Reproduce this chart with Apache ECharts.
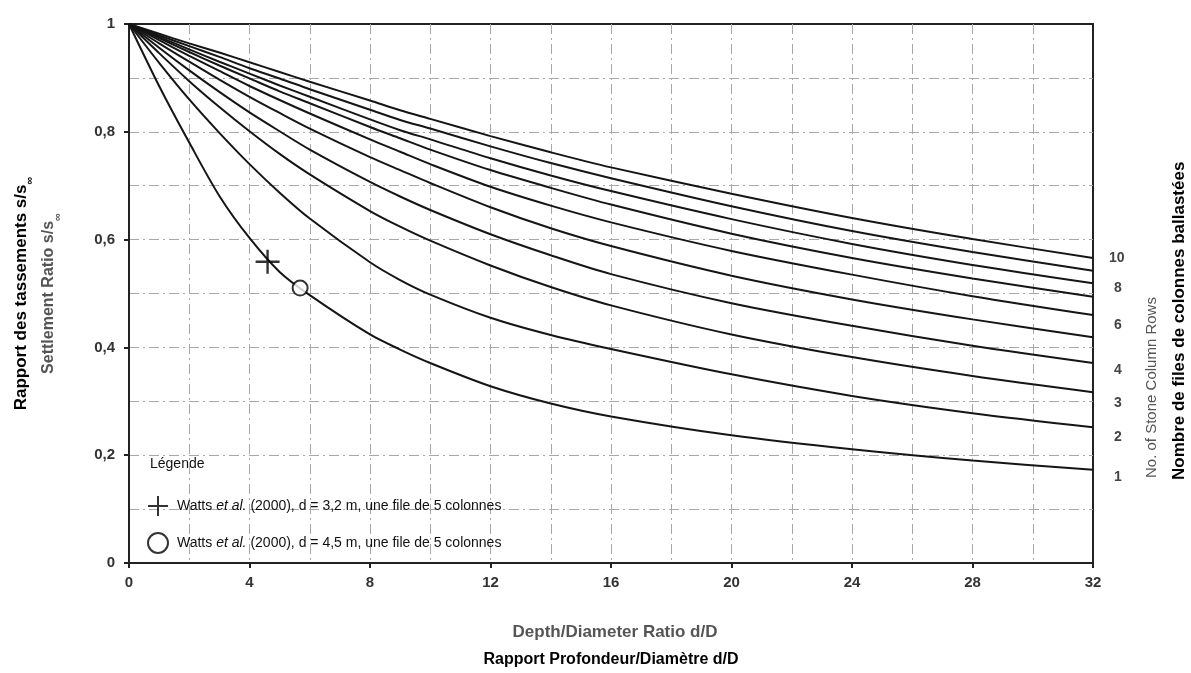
<!DOCTYPE html>
<html>
<head>
<meta charset="utf-8">
<script src="https://cdn.jsdelivr.net/npm/echarts@6/dist/echarts.min.js"></script>
<style>html,body{margin:0;padding:0;background:#fff;}#c{width:1191px;height:673px;}</style>
</head>
<body>
<div id="c"></div>
<script>
// Depth/Diameter ratio d/D sample points
const dD = [0, 1, 2, 3, 4, 5, 6, 8, 9, 10, 12, 14, 16, 20, 24, 28, 32];
// Settlement ratio s/s∞ for each number of stone column rows
const rows1  = [1, 0.885, 0.780, 0.681, 0.603, 0.540, 0.497, 0.424, 0.396, 0.371, 0.328, 0.296, 0.272, 0.237, 0.211, 0.190, 0.173];
const rows2  = [1, 0.928, 0.860, 0.798, 0.740, 0.687, 0.639, 0.558, 0.525, 0.498, 0.455, 0.423, 0.397, 0.350, 0.310, 0.278, 0.252];
const rows3  = [1, 0.946, 0.894, 0.846, 0.801, 0.759, 0.721, 0.653, 0.624, 0.598, 0.552, 0.512, 0.478, 0.424, 0.382, 0.347, 0.317];
const rows4  = [1, 0.956, 0.914, 0.874, 0.836, 0.801, 0.767, 0.707, 0.680, 0.655, 0.610, 0.571, 0.536, 0.482, 0.440, 0.403, 0.371];
const rows5  = [1, 0.964, 0.930, 0.897, 0.865, 0.835, 0.806, 0.753, 0.729, 0.705, 0.660, 0.621, 0.588, 0.533, 0.489, 0.452, 0.419];
const rows6  = [1, 0.970, 0.941, 0.913, 0.885, 0.859, 0.834, 0.786, 0.763, 0.740, 0.698, 0.663, 0.632, 0.579, 0.535, 0.495, 0.460];
const rows7  = [1, 0.974, 0.948, 0.923, 0.899, 0.875, 0.853, 0.809, 0.788, 0.767, 0.729, 0.696, 0.665, 0.611, 0.566, 0.528, 0.494];
const rows8  = [1, 0.976, 0.953, 0.930, 0.908, 0.886, 0.865, 0.823, 0.803, 0.786, 0.751, 0.719, 0.690, 0.638, 0.592, 0.553, 0.519];
const rows9  = [1, 0.979, 0.959, 0.939, 0.918, 0.899, 0.879, 0.841, 0.822, 0.806, 0.773, 0.742, 0.714, 0.662, 0.616, 0.577, 0.542];
const rows10 = [1, 0.982, 0.964, 0.947, 0.929, 0.911, 0.893, 0.858, 0.840, 0.824, 0.792, 0.762, 0.734, 0.685, 0.640, 0.601, 0.566];
const rowCounts = [1, 2, 3, 4, 5, 6, 7, 8, 9, 10];
const rowData = [rows1, rows2, rows3, rows4, rows5, rows6, rows7, rows8, rows9, rows10];
// Labelled curves at the right edge
const labelledRows = [1, 2, 3, 4, 6, 8, 10];
// Watts et al. (2000) field points [d/D, s/s∞]
const watts32 = [[4.6, 0.559]];
const watts45 = [[5.68, 0.51]];
const name32 = 'Watts et al. (2000), d = 3,2 m, une file de 5 colonnes';
const name45 = 'Watts et al. (2000), d = 4,5 m, une file de 5 colonnes';
// Tick labels
const xTicks = [0, 4, 8, 12, 16, 20, 24, 28, 32];
const yTicks = ['0', '0,2', '0,4', '0,6', '0,8', '1'];

const labelOffsets = {1: [13, 7], 2: [13, 10], 3: [13, 11], 4: [13, 7], 6: [13, 10], 8: [13, 5], 10: [8, 0]};

const font = 'Liberation Sans, Arial, sans-serif';
const gridLine = {color: '#a8a8a8', width: 1, type: [10, 4, 2, 4]};

const curveSeries = rowCounts.map((n, i) => ({
  type: 'line',
  name: 'rows' + n,
  data: dD.map((x, j) => [x, rowData[i][j]]),
  smooth: 0.3,
  showSymbol: false,
  silent: true,
  lineStyle: {color: '#151515', width: 2},
  endLabel: {
    show: labelledRows.indexOf(n) >= 0,
    formatter: String(n),
    offset: labelOffsets[n] || [0, 0],
    color: '#444',
    fontFamily: font,
    fontWeight: 'bold',
    fontSize: 14
  },
  z: 3
}));

const chart = echarts.init(document.getElementById('c'), null, {renderer: 'canvas'});
chart.setOption({
  backgroundColor: '#fff',
  animation: false,
  grid: {left: 129, right: 98, top: 24, bottom: 110, containLabel: false, outerBoundsMode: 'none',
         show: true, borderColor: '#222', borderWidth: 2, backgroundColor: 'transparent'},
  xAxis: {
    type: 'value', min: 0, max: 32, interval: 4,
    axisLine: {show: true, lineStyle: {color: '#222', width: 2}},
    axisTick: {show: true, length: 5, lineStyle: {color: '#222', width: 2}},
    minorTick: {show: true, splitNumber: 2, length: 0},
    splitLine: {show: true, showMinLine: false, showMaxLine: false, lineStyle: gridLine},
    minorSplitLine: {show: true, lineStyle: gridLine},
    axisLabel: {
      color: '#333', fontFamily: font, fontWeight: 'bold', fontSize: 15, margin: 12,
      formatter: v => (xTicks.indexOf(v) >= 0 ? String(v) : '')
    },
    name: '{a|Depth/Diameter Ratio d/D}\n{b|Rapport Profondeur/Diamètre d/D}',
    nameLocation: 'middle',
    nameGap: 56,
    nameTextStyle: {
      rich: {
        a: {fontFamily: font, fontSize: 17, fontWeight: 'bold', color: '#555', lineHeight: 27, padding: [0, 0, 0, 8]},
        b: {fontFamily: font, fontSize: 16, fontWeight: 'bold', color: '#000', lineHeight: 27}
      }
    }
  },
  yAxis: {
    type: 'value', min: 0, max: 1, interval: 0.2,
    axisLine: {show: true, lineStyle: {color: '#222', width: 2}},
    axisTick: {show: true, length: 5, lineStyle: {color: '#222', width: 2}},
    minorTick: {show: true, splitNumber: 2, length: 0},
    splitLine: {show: true, showMinLine: false, showMaxLine: false, lineStyle: gridLine},
    minorSplitLine: {show: true, lineStyle: gridLine},
    axisLabel: {
      color: '#333', fontFamily: font, fontWeight: 'bold', fontSize: 15, margin: 14,
      formatter: v => yTicks[Math.round(v * 5)]
    },
    name: '{a|Rapport des tassements s/s}{as|∞}\n{b|Settlement Ratio s/s}{bs|∞}',
    nameLocation: 'middle',
    nameRotate: 90,
    nameGap: 66,
    nameTextStyle: {
      rich: {
        a: {fontFamily: font, fontSize: 17, fontWeight: 'bold', color: '#000', lineHeight: 28},
        as: {fontFamily: font, fontSize: 11, fontWeight: 'bold', color: '#000', lineHeight: 28, verticalAlign: 'bottom', padding: [3, 0, 0, 0]},
        b: {fontFamily: font, fontSize: 16, fontWeight: 'bold', color: '#555', lineHeight: 28},
        bs: {fontFamily: font, fontSize: 11, fontWeight: 'bold', color: '#555', lineHeight: 28, verticalAlign: 'bottom', padding: [3, 0, 0, 0]}
      }
    }
  },
  legend: {
    show: true,
    orient: 'vertical',
    left: 142,
    top: 491,
    itemWidth: 20,
    itemHeight: 20,
    itemGap: 16,
    data: [name32, name45],
    selectedMode: false,
    formatter: name => {
      const parts = name.split('et al.');
      return '{n|' + parts[0] + '}{i|et al.}{n|' + parts[1] + '}';
    },
    textStyle: {
      rich: {
        n: {fontFamily: font, fontSize: 14, color: '#111'},
        i: {fontFamily: font, fontSize: 14, color: '#111', fontStyle: 'italic'}
      },
      padding: [0, 0, 0, 4]
    }
  },
  graphic: [
    {type: 'text', left: 150, top: 457, silent: true,
     style: {text: 'Légende', font: '14px ' + font, fill: '#111'}},
    {type: 'text', x: 1152, y: 478, rotation: Math.PI / 2, silent: true,
     style: {text: 'No. of Stone Column Rows', font: '15px ' + font, fill: '#555', align: 'left', verticalAlign: 'middle'}},
    {type: 'text', x: 1179, y: 480, rotation: Math.PI / 2, silent: true,
     style: {text: 'Nombre de files de colonnes ballastées', font: 'bold 17px ' + font, fill: '#000', align: 'left', verticalAlign: 'middle'}}
  ],
  series: curveSeries.concat([
    {
      type: 'scatter', name: name32, data: watts32,
      symbol: 'path://M9,0h2v20h-2zM0,9h20v2h-20z', symbolSize: 24,
      itemStyle: {color: '#000'}, z: 5
    },
    {
      type: 'scatter', name: name45, data: watts45,
      symbol: 'circle', symbolSize: 15,
      itemStyle: {color: '#fff', borderColor: '#000', borderWidth: 2}, z: 5
    }
  ])
});
</script>
</body>
</html>
